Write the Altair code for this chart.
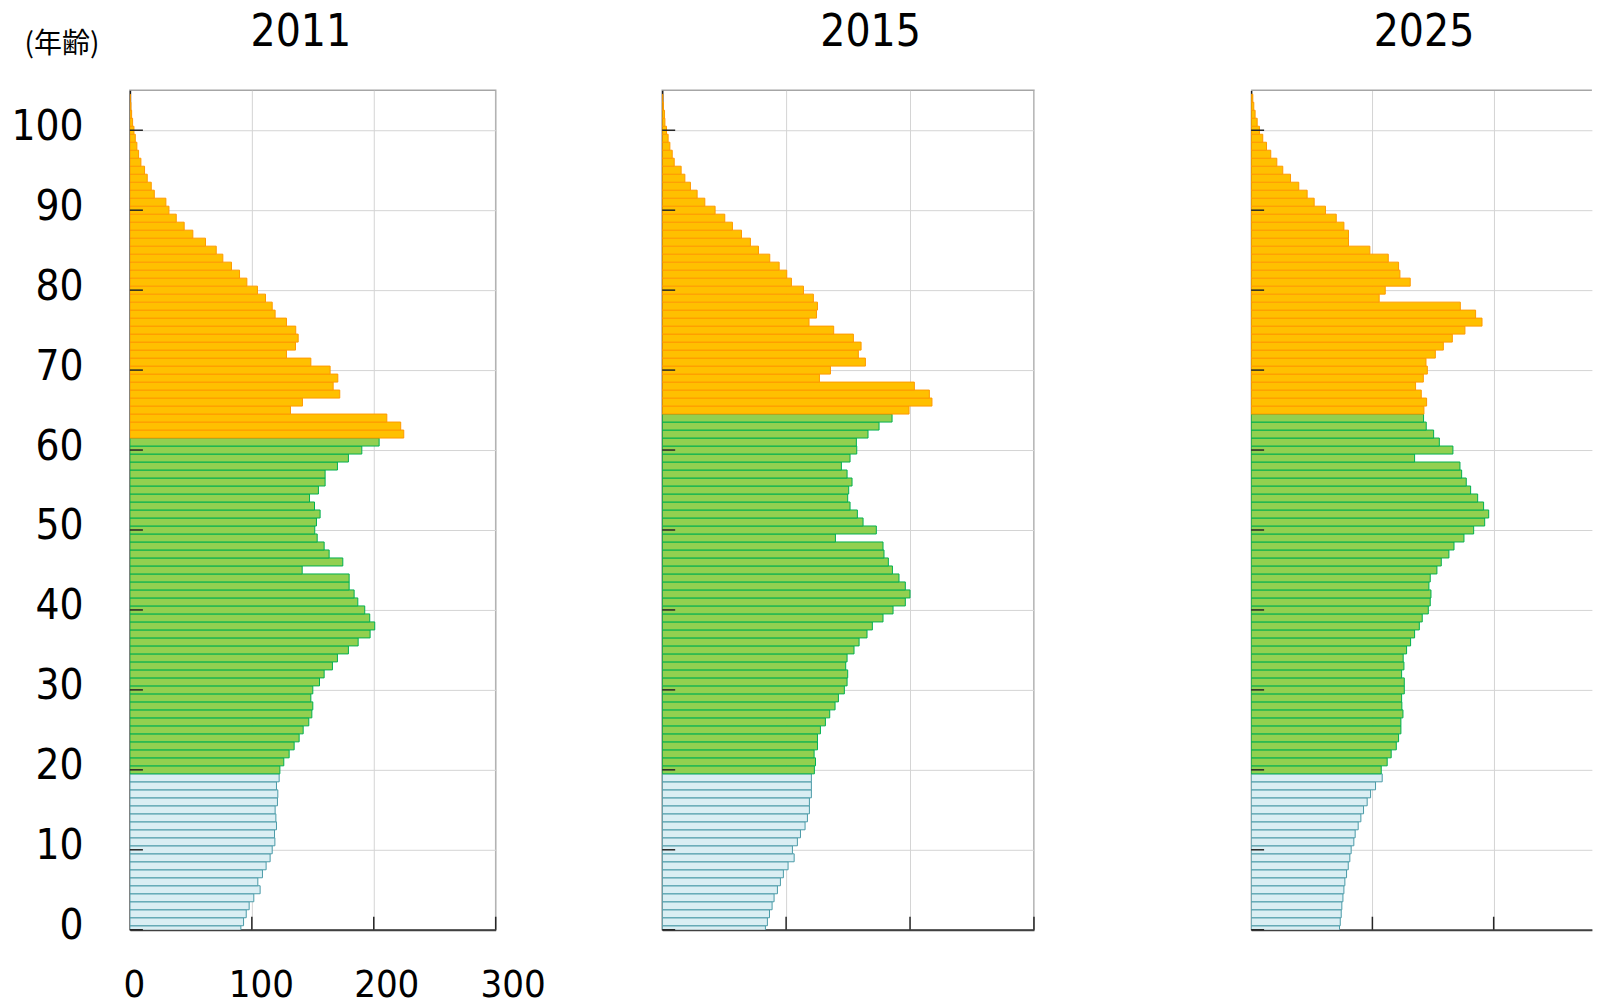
import altair as alt
import pandas as pd

ages = list(range(105))

pop_2011 = [91, 93.2, 95.4, 97.8, 101.6, 106.8, 104.9, 108.7, 111.7, 115,
            116.7, 118.9, 118.6, 120.2, 119.7, 119.1, 121, 121.3, 120.2, 122.4,
            123, 126.2, 130.6, 134.7, 138.8, 142.1, 146.7, 149.2, 150, 148.4,
            150, 155.5, 159.3, 166.1, 170.2, 179.2, 187.2, 197, 200.8, 196.7,
            192.6, 186.9, 183.9, 179.8, 179.8, 141.3, 174.6, 163.4, 159.3, 153.6,
            151.6, 153, 156, 151.4, 147.3, 154.6, 160.1, 160.1, 170.2, 179.2,
            190.2, 204.4, 224.6, 222.1, 210.7, 131.7, 141.5, 172.1, 166.7, 170.5,
            164.2, 148.4, 128.4, 135.8, 138, 136, 128.4, 119.1, 116.7, 111.2,
            104.6, 95.9, 89.9, 83.3, 76.2, 70.8, 62, 51.6, 44.5, 38,
            32, 29.5, 20, 17.5, 14.2, 12, 9, 7.1, 5.7, 4.4,
            3.3, 2.2, 1.4, 0.8, 0.3]

pop_2015 = [83.3, 84.9, 86.6, 88.7, 90.3, 93, 95.4, 97.8, 101.6, 106.5,
            105.1, 109.1, 111.6, 115.3, 117.2, 118.8, 118.8, 120.4, 120.4, 120.4,
            122.8, 123.7, 122.6, 125.3, 125.3, 127.7, 131.7, 135.2, 139.5, 142.2,
            147, 149.2, 149.7, 148.1, 149.2, 154.8, 158.9, 165.3, 169.6, 178.2,
            186.3, 196.2, 200, 196.2, 191.1, 185.8, 182.5, 179, 178.2, 139.8,
            172.8, 162.1, 157.5, 151.6, 149.7, 150.5, 153.2, 149.2, 144.6, 151.6,
            157, 156.7, 166.1, 175, 185.5, 199.2, 217.7, 215.6, 203.5, 126.9,
            135.8, 164, 158.3, 160.5, 154.3, 138.4, 118.5, 124.5, 125.3, 122,
            114, 104.3, 100.5, 94.4, 86.8, 77.7, 71.2, 64, 56.7, 50.5,
            42.7, 34.4, 28.2, 22.8, 18.3, 15.3, 9.7, 8.1, 6.2, 4.8,
            3.5, 2.2, 1.9, 1, 0.5]

pop_2025 = [72.9, 73.5, 74.3, 74.8, 75.7, 76.5, 77.3, 78.7, 80.1, 81.4,
            82.5, 84.7, 85.8, 88.3, 90.5, 92.7, 95.7, 98.5, 102.6, 108.1,
            107.3, 112.2, 115.5, 119.7, 121.6, 123.5, 123.5, 125.2, 124.3, 124.1,
            126.3, 126.3, 124.1, 126, 125.4, 128.2, 131.5, 134.8, 138.7, 141.1,
            146.1, 147.7, 148.3, 146.6, 147.7, 153.2, 156.8, 163.1, 167.3, 175.5,
            183.5, 192.6, 195.9, 191.7, 186.8, 181, 177.4, 173.6, 172.2, 134.8,
            166.4, 155.2, 150.5, 144.4, 142.2, 142.5, 144.7, 140.3, 135.6, 142,
            145.3, 144.2, 151.9, 158.5, 165.9, 176.3, 190.4, 185.1, 172.5, 105.6,
            110.6, 131.2, 122.7, 121.6, 113.1, 97.9, 80.3, 80.3, 76.5, 70.2,
            61.3, 52, 46.2, 39.3, 32.5, 26.1, 21.2, 16.2, 12.7, 9.6,
            6.9, 5, 3.3, 2.2, 1.4]

years = ["2011", "2015", "2025"]
elderly_start = {"2011": 62, "2015": 65, "2025": 65}
x_ticks = [0, 100, 200, 300]
y_ticks = list(range(0, 101, 10))
group_names = ["young", "working", "elderly"]
fills = ["#DAEEF3", "#92D050", "#FFC000"]
strokes = ["#4A9BA8", "#00B050", "#FF9900"]

FONT = "DejaVu Sans Condensed, DejaVu Sans"
H = 840
FRAME = "#A6A6A6"
GRID = "#D4D4D4"
TICK = "#262626"


def panel(year, values, width, xmax, title_x, first, right_frame):
    start = elderly_start[year]
    df = pd.DataFrame({"age": ages, "pop": values})
    df["group"] = ["young" if a < 20 else ("elderly" if a >= start else "working") for a in ages]
    df["lo"] = df["age"] - 0.5
    df["hi"] = df["age"] + 0.5
    df["zero"] = 0

    xvals = [v for v in x_ticks if v <= xmax]
    xscale = alt.Scale(domain=[0, xmax], nice=False, zero=True)
    yscale = alt.Scale(domain=[0, 105], nice=False, zero=True)

    label_shift = {"condition": [{"test": "datum.value == 0", "value": 4},
                                 {"test": "datum.value == 100", "value": 9},
                                 {"test": "datum.value == 200", "value": 12.5}],
                   "value": 17}
    xaxis = alt.Axis(values=xvals, labels=first, labelFontSize=38, labelFont=FONT,
                     labelColor="black", labelPadding=37, labelBaseline="top",
                     labelOffset=label_shift, labelFlush=False, labelOverlap=False,
                     ticks=False, tickSize=0, domainColor="#404040", domainWidth=2,
                     grid=True, gridColor=GRID, gridWidth=1, title=None)
    ykw = dict(values=y_ticks, labels=first, labelFontSize=42, labelFont=FONT,
               labelColor="black", labelPadding=47, labelOffset=-4,
               labelBaseline="middle", labelAlign="right", labelOverlap=False,
               ticks=False, tickSize=0, domainColor="#1a1a1a", domainWidth=1.5,
               grid=True, gridColor=GRID, gridWidth=1)
    if first:
        ykw.update(title="(年齢)", titleAngle=0, titleX=-68.5, titleY=-45.5,
                   titleFont="Noto Sans CJK JP", titleFontSize=28,
                   titleFontWeight="normal", titleColor="black",
                   titleAlign="center", titleBaseline="middle")
    else:
        ykw.update(title=None)
    yaxis = alt.Axis(**ykw)

    bars = alt.Chart(df).mark_rect(strokeWidth=1, clip=True).encode(
        x=alt.X("zero:Q", scale=xscale, axis=xaxis),
        x2="pop:Q",
        y=alt.Y("lo:Q", scale=yscale, axis=yaxis),
        y2="hi:Q",
        fill=alt.Fill("group:N", scale=alt.Scale(domain=group_names, range=fills), legend=None),
        stroke=alt.Stroke("group:N", scale=alt.Scale(domain=group_names, range=strokes), legend=None),
    )
    yt = alt.Chart(pd.DataFrame({"t": y_ticks})).mark_rule(color=TICK, strokeWidth=1.5).encode(
        y=alt.Y("t:Q", scale=yscale), x=alt.value(0), x2=alt.value(13))
    xt = alt.Chart(pd.DataFrame({"t": xvals[1:]})).mark_rule(color=TICK, strokeWidth=1.5).encode(
        x=alt.X("t:Q", scale=xscale), y=alt.value(H), y2=alt.value(H - 13))
    heading = alt.Chart(pd.DataFrame({"label": [year]})).mark_text(
        font=FONT, fontSize=44, color="black", align="center", baseline="alphabetic"
    ).encode(text="label:N", x=alt.value(title_x), y=alt.value(-43.8))

    layers = [bars, yt, xt, heading]
    props = dict(width=width, height=H)
    if not right_frame:
        top = alt.Chart(pd.DataFrame({"t": [105]})).mark_rule(color=FRAME, strokeWidth=1.5).encode(
            y=alt.Y("t:Q", scale=yscale), x=alt.value(0), x2=alt.value(width))
        layers.insert(0, top)
        props["view"] = alt.ViewBackground(stroke="transparent")
    return alt.layer(*layers).properties(**props)


p1 = panel("2011", pop_2011, 366, 300, 171, True, True)
p2 = panel("2015", pop_2015, 372, 300, 208.5, False, True)
p3 = panel("2025", pop_2025, 341, 281, 173, False, False)

inner = alt.hconcat(p2, p3, spacing=217.3, bounds="flush")
chart = alt.hconcat(p1, inner, spacing=166.6, bounds="flush").configure_view(
    stroke=FRAME, strokeWidth=1.5
).properties(padding={"left": 2, "top": 2, "right": 0, "bottom": 0}, background="white")

chart.save("out.html", embed_options={"renderer": "svg", "actions": False})
